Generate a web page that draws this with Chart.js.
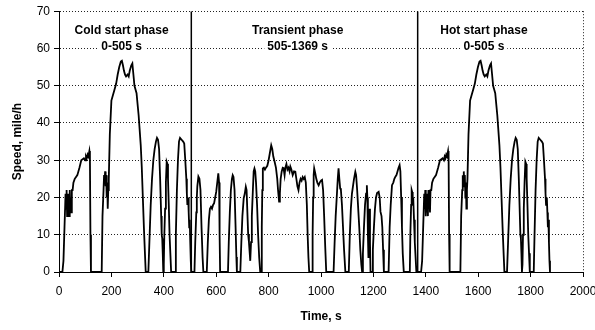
<!DOCTYPE html>
<html>
<head>
<meta charset="utf-8">
<script src="https://cdn.jsdelivr.net/npm/chart.js@4/dist/chart.umd.min.js"></script>
<style>
    html, body { margin: 0; padding: 0; background: #fff; }
    #chart { display: block; }
</style>
</head>
<body>
<canvas id="chart" width="595" height="330"></canvas>
<script>
// FTP-75 cycle (time in s, speed in mile/h)
const coldTime = [
    0, 13, 17, 21, 25, 27, 29, 31, 33, 35,
    37, 39, 41, 43, 45, 47, 49, 52, 55, 60,
    65, 70, 78, 85, 95, 100, 103, 106, 109, 112,
    116, 118, 120, 122, 163, 166, 170, 172, 174, 176,
    178, 180, 182, 184, 186, 188, 190, 194, 200, 206,
    212, 218, 224, 230, 236, 240, 244, 248, 252, 256,
    262, 266, 270, 276, 280, 284, 288, 292, 296, 300,
    304, 308, 312, 316, 320, 324, 328, 331, 341, 345,
    350, 355, 360, 365, 370, 374, 378, 382, 386, 390,
    392, 394, 396, 398, 400, 402, 405, 408, 411, 414,
    416, 419, 422, 425, 428, 443, 446, 450, 454, 458,
    462, 468, 474, 478, 482, 486, 488, 490, 493, 495,
    497, 499, 501, 503, 505
];
const coldSpeed = [
    0, 0, 3, 12, 21, 17, 22, 15, 21, 16,
    21, 15, 22, 17, 20, 16, 22, 22, 24, 25,
    25.5, 26, 28, 30, 30.5, 30, 31, 30.5, 31.5, 31,
    32.5, 31, 10, 0, 0, 15, 22, 26, 24, 27,
    23, 26, 20, 24, 17, 22, 25, 37, 46, 47.5,
    49, 50.5, 53, 55, 56.5, 56.7, 55.5, 54, 53, 52.5,
    53, 52.5, 54, 55.5, 56, 53, 50, 49, 48, 45,
    42, 38, 34, 28, 20, 12, 5, 0, 0, 8,
    18, 25, 30, 33, 35, 36, 35.5, 33, 25, 15,
    10, 9, 5, 0, 2, 10, 17, 24, 29.6, 29,
    25, 18, 10, 5, 0, 0, 10, 22, 30, 35,
    36, 35.5, 35, 34.5, 30, 25, 21, 18, 20, 16,
    12, 14, 8, 3, 0
];
const transientTime = [
    517, 520, 524, 526, 528, 532, 536, 540, 544, 548,
    551, 564, 568, 572, 576, 580, 584, 588, 592, 596,
    600, 604, 608, 611, 613, 615, 645, 648, 652, 656,
    660, 663, 666, 670, 674, 677, 679, 692, 696, 700,
    705, 709, 713, 716, 719, 722, 725, 728, 730, 733,
    736, 740, 743, 746, 749, 752, 756, 760, 764, 768,
    772, 774, 776, 778, 782, 786, 790, 795, 800, 805,
    810, 814, 818, 823, 828, 833, 836, 840, 843, 846,
    850, 854, 857, 861, 864, 868, 872, 876, 880, 883,
    887, 892, 897, 902, 906, 910, 914, 918, 922, 926,
    930, 934, 938, 942, 946, 949, 952, 955, 966, 968,
    970, 972, 974, 978, 982, 986, 991, 995, 1000, 1004,
    1008, 1012, 1016, 1020, 1048, 1052, 1056, 1060, 1064, 1067,
    1070, 1073, 1076, 1080, 1084, 1088, 1093, 1106, 1110, 1114,
    1118, 1122, 1126, 1131, 1134, 1138, 1142, 1146, 1150, 1154,
    1157, 1160, 1164, 1168, 1172, 1175, 1177, 1179, 1181, 1183,
    1185, 1187, 1189, 1195, 1198, 1202, 1206, 1210, 1214, 1220,
    1224, 1227, 1231, 1234, 1237, 1240, 1258, 1262, 1266, 1271,
    1276, 1280, 1284, 1288, 1292, 1296, 1300, 1303, 1306, 1309,
    1312, 1316, 1339, 1341, 1344, 1346, 1348, 1350, 1352, 1355,
    1358, 1361, 1364, 1369
];
const transientSpeed = [
    0, 8, 16, 20, 23, 25.6, 25, 22, 12, 4,
    0, 0, 8, 14, 17, 17.5, 17, 18, 18.5, 20,
    21.5, 24, 26.5, 24, 10, 0, 0, 8, 16, 22,
    25, 26, 25.5, 22, 12, 4, 0, 0, 8, 15,
    19.8, 21, 22.9, 22, 16, 10, 8, 5, 3, 8,
    15, 22, 27, 27.8, 27, 24, 18, 10, 4, 0,
    0, 12, 22, 27.8, 28, 27.5, 28, 28.5, 30, 32,
    34, 33, 31, 29.6, 28, 25, 22, 18.9, 21, 25,
    27, 28, 27.9, 26, 28, 29, 27.5, 28, 27, 28.3,
    27.5, 26, 27, 26.9, 25, 23, 22, 24, 25, 24.5,
    25.5, 25, 25.5, 24, 18, 10, 4, 0, 0, 10,
    20, 26, 27.8, 26.5, 25, 24, 23.3, 24, 24.5, 24.7,
    22, 15, 7, 0, 0, 8, 15, 20, 25, 27.8,
    25, 22.5, 22, 18, 12, 6, 0, 0, 10, 17,
    21, 23, 25, 26.9, 26, 22, 17, 12, 6, 2,
    0, 5, 12, 18, 21, 23.3, 20, 10, 4, 10,
    17, 8, 0, 0, 6, 12, 17, 20, 21.2, 21.5,
    20, 16.2, 15, 12, 6, 0, 0, 12, 18, 23.3,
    24, 25, 25.6, 26, 27, 28, 28.7, 27, 20, 12,
    5, 0, 0, 10, 18, 22, 21.5, 18, 20, 14,
    8, 4, 0, 0
];
// hot start repeats the cold start trace after the transient phase
const hotStart = 1369;

const phaseBounds = [505, 1369];
const phaseTitles = ['Cold start phase', 'Transient phase', 'Hot start phase'];
const phaseRanges = ['0-505 s', '505-1369 s', '0-505 s'];
const phaseLabelAt = [239, 911, 1622];

Chart.defaults.font.family = '"Liberation Sans", Arial, sans-serif';
Chart.defaults.color = '#000';

const cycle = [];
coldTime.forEach((t, i) => cycle.push({ x: t, y: coldSpeed[i] }));
transientTime.forEach((t, i) => cycle.push({ x: t, y: transientSpeed[i] }));
coldTime.forEach((t, i) => cycle.push({ x: t + hotStart, y: coldSpeed[i] }));

const boundSets = phaseBounds.map(b => ({
    data: [{ x: b, y: 0 }, { x: b, y: 70 }],
    borderColor: '#000',
    borderWidth: 1.5,
    pointRadius: 0
}));

// phase names sit on a white patch, the grid stops behind them
const phaseLabels = {
    id: 'phaseLabels',
    afterDatasetsDraw(chart) {
        const { ctx, scales: { x, y } } = chart;
        ctx.save();
        ctx.font = 'bold 12px "Liberation Sans", Arial, sans-serif';
        ctx.textAlign = 'center';
        ctx.textBaseline = 'middle';
        const put = (txt, px, py) => {
            const w = ctx.measureText(txt).width;
            ctx.fillStyle = '#fff';
            ctx.fillRect(px - w / 2 - 3, py - 7, w + 6, 14);
            ctx.fillStyle = '#000';
            ctx.fillText(txt, px, py);
        };
        phaseTitles.forEach((txt, i) => {
            const px = x.getPixelForValue(phaseLabelAt[i]);
            put(txt, px, y.getPixelForValue(64.9));
            put(phaseRanges[i], px, y.getPixelForValue(60.5));
        });
        ctx.restore();
    }
};

new Chart(document.getElementById('chart'), {
    type: 'line',
    data: {
        datasets: [{
            data: cycle,
            borderColor: '#000',
            borderWidth: 1.8,
            pointRadius: 0,
            tension: 0
        }, ...boundSets]
    },
    options: {
        responsive: false,
        animation: false,
        layout: { padding: { top: 11, right: 12, bottom: 0, left: 0 } },
        plugins: { legend: { display: false }, tooltip: { enabled: false } },
        scales: {
            x: {
                type: 'linear',
                min: 0,
                max: 2000,
                afterFit: s => { s.height = 58; s.paddingLeft = 0; s.paddingRight = 0; },
                ticks: { stepSize: 200, font: { size: 12 }, padding: 7, maxRotation: 0, callback: v => String(v) },
                grid: {
                    color: c => (c.tick && c.tick.value === 2000) ? '#222' : 'rgba(0,0,0,0)',
                    tickColor: '#000',
                    tickLength: 5
                },
                border: { color: '#000', width: 1, dash: [1, 2] },
                title: {
                    display: true,
                    text: 'Time, s',
                    font: { size: 12, weight: 'bold' },
                    padding: { top: 0, bottom: 6 }
                }
            },
            y: {
                min: 0,
                max: 70,
                afterFit: s => { s.width = 59; },
                ticks: { stepSize: 10, font: { size: 12 }, padding: 4 },
                grid: { color: '#222', tickColor: '#000', tickLength: 5 },
                border: { color: '#000', width: 1, dash: [1, 2] },
                title: {
                    display: true,
                    text: 'Speed, mile/h',
                    font: { size: 12, weight: 'bold' },
                    padding: { top: 10, bottom: 0 }
                }
            }
        }
    },
    plugins: [phaseLabels]
});
</script>
</body>
</html>
